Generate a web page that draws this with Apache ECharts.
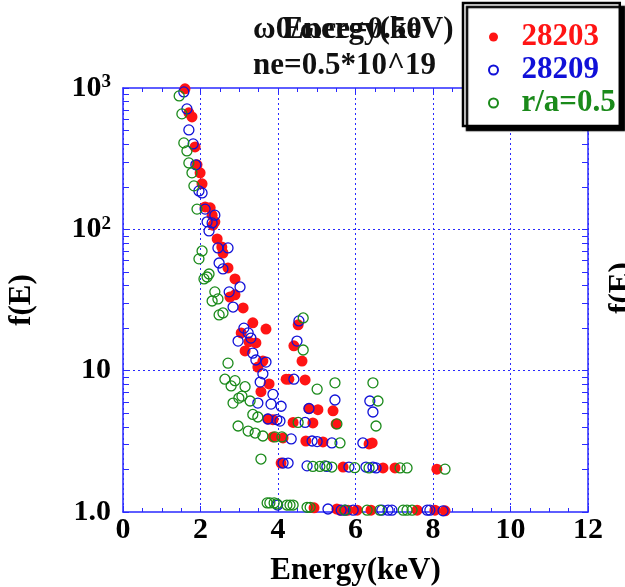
<!DOCTYPE html>
<html>
<head>
<meta charset="utf-8">
<script src="https://cdn.jsdelivr.net/npm/echarts@6/dist/echarts.min.js"></script>
<style>
  html, body { margin: 0; padding: 0; background: #fff; }
  #chart { width: 625px; height: 587px; }
</style>
</head>
<body>
<div id="chart"></div>
<script>
// Energy axis ticks (keV) and f(E) decade labels
const xTicks = [0, 2, 4, 6, 8, 10, 12];
const yDecadeLabels = { 1: '1.0', 10: '10', 100: '{b|10}{s|2}', 1000: '{b|10}{s|3}' };
// Tick marks along the logarithmic f(E) axis: decades plus 2..9 within each decade
const yTickValues = [1, 2, 3, 4, 5, 6, 7, 8, 9, 10, 20, 30, 40, 50, 60, 70, 80, 90,
  100, 200, 300, 400, 500, 600, 700, 800, 900, 1000];
// Inner decades that get a dotted grid line
const yGridValues = [10, 100];

// Series names
const seriesNames = ['28203', '28209', 'r/a=0.5'];

// Shot 28203: energy (keV) and f(E)
const e28203 = [1.60, 1.70, 1.78, 1.86, 1.91, 1.99, 2.04, 2.12, 2.25, 2.30, 2.37, 2.32, 2.43, 2.55, 2.58,
  2.71, 2.89, 2.76, 2.89, 3.10, 3.35, 3.69, 3.05, 3.25, 3.43, 3.15, 3.61, 3.48, 3.77, 3.56,
  4.52, 4.41, 4.62, 4.21, 4.28, 4.70, 4.80, 5.03, 5.42, 3.74, 3.87, 4.39, 4.90, 5.50,
  3.87, 4.13, 4.72, 5.16, 6.35, 6.43, 4.08, 5.68, 6.71, 7.02, 8.10,
  4.93, 5.52, 5.60, 5.81, 6.04, 6.40, 7.59, 8.05, 8.31];
const f28203 = [986, 667, 624, 383, 286, 251, 210, 144, 142, 126, 113, 107, 85.5, 75, 68,
  53.3, 44.6, 33.2, 34.4, 27.8, 21.8, 19.7, 18.5, 16.0, 15.7, 13.8, 11.7, 10.6, 8.05, 7.1,
  21.1, 15.0, 11.7, 8.7, 8.7, 8.6, 5.4, 5.3, 5.2, 4.55, 4.5, 4.3, 4.27, 4.2,
  3.4, 3.34, 3.18, 3.13, 3.03, 3.08, 2.22, 2.08, 2.05, 2.05, 2.01,
  1.07, 1.05, 1.03, 1.03, 1.03, 1.03, 1.03, 1.03, 1.02];

// Shot 28209
const e28209 = [1.57, 1.65, 1.70, 1.81, 1.88, 1.96, 2.04, 2.12, 2.37, 2.30, 2.17, 2.22, 2.45, 2.71, 2.48,
  2.58, 2.74, 3.02, 2.84, 3.12, 3.23, 3.30, 2.97, 3.35, 3.43, 3.69, 3.61, 3.54,
  4.54, 4.49, 4.41, 3.87, 3.48, 3.82, 4.08, 4.80, 5.47, 6.37, 6.45, 3.74, 3.97, 4.05, 4.70,
  4.34, 4.88, 5.01, 5.39, 6.19, 4.13, 4.26, 4.75, 5.26, 5.83, 6.27, 6.45, 6.53,
  3.99, 5.29, 5.63, 5.73, 5.94, 6.68, 6.84, 6.94, 7.85, 7.92, 8.26];
const f28209 = [938, 711, 505, 402, 286, 187, 181, 139, 126, 111, 113, 97.5, 73.9, 73.9, 57.8,
  52.5, 36.1, 39.1, 28.2, 20.0, 18.5, 17.0, 16.2, 13.3, 11.9, 11.5, 9.5, 8.3,
  22.5, 16.2, 8.7, 6.8, 5.9, 5.8, 5.6, 5.4, 6.2, 6.1, 5.1, 4.55, 4.5, 4.4, 4.3,
  3.29, 3.18, 3.15, 3.08, 3.08, 2.22, 2.22, 2.12, 2.1, 2.08, 2.08, 2.08, 2.05,
  1.12, 1.05, 1.03, 1.03, 1.03, 1.03, 1.03, 1.03, 1.03, 1.03, 1.02];

// Profile at r/a = 0.5
const eHalf = [1.45, 1.52, 1.57, 1.65, 1.70, 1.78, 1.83, 1.91, 2.04, 1.96, 2.22, 2.17, 2.09, 2.37, 2.45,
  2.30, 2.48, 2.58, 2.71, 2.63, 2.89, 2.79, 3.15, 3.07, 2.99, 2.84, 3.28, 3.35, 3.48, 2.97,
  3.23, 3.41, 3.61, 3.56, 4.65, 4.65, 5.47, 5.01, 6.45, 6.58, 4.52, 5.52, 6.53, 3.92, 4.10,
  5.60, 4.90, 5.08, 5.21, 5.39, 5.98, 6.35, 7.15, 7.33, 8.31,
  3.72, 3.79, 3.90, 3.97, 4.23, 4.31, 4.39, 4.75, 4.83, 5.73, 6.30, 6.63, 7.23, 7.33, 7.46];
const fHalf = [879, 656, 409, 359, 295, 251, 203, 139, 70.3, 61.8, 48.3, 46.0, 44.6, 36.1, 32.2,
  31.1, 24.8, 25.6, 11.3, 8.7, 8.5, 7.8, 7.7, 6.6, 6.4, 5.9, 6.1, 4.9, 4.7, 4.06,
  3.74, 3.62, 3.45, 2.37, 23.6, 14.0, 8.2, 7.4, 8.2, 6.1, 4.3, 4.2, 4.06, 3.4, 3.4,
  3.08, 2.1, 2.1, 2.12, 2.08, 2.06, 2.05, 2.05, 2.05, 2.01,
  1.16, 1.16, 1.16, 1.14, 1.12, 1.12, 1.12, 1.08, 1.08, 1.03, 1.03, 1.03, 1.03, 1.03, 1.03];

const RED = '#ff1414';
const BLUE = '#1010d8';
const GREEN = '#1a8a1a';
const AXIS = '#2a2aff';
const FONT = '"Liberation Serif", "Times New Roman", serif';

const pairs = (xs, ys) => xs.map((x, i) => [x, ys[i]]);

const bold = (size, color) => ({ fontFamily: FONT, fontWeight: 'bold', fontSize: size, color: color || '#000' });

const chart = echarts.init(document.getElementById('chart'), null, { renderer: 'canvas' });

const xBase = {
  type: 'value', min: xTicks[0], max: xTicks[xTicks.length - 1], interval: 2,
  axisLine: { onZero: false, lineStyle: { color: AXIS, width: 1.5 } },
  axisTick: { inside: true, length: 6, lineStyle: { color: AXIS, width: 1 } },
  minorTick: { show: true, splitNumber: 4, length: 4, lineStyle: { color: AXIS, width: 1 } }
};
const yBase = {
  type: 'log', logBase: 10, min: 1, max: 1000,
  axisLine: { onZero: false, lineStyle: { color: AXIS, width: 1.5 } },
  axisTick: { inside: true, length: 6, customValues: yTickValues, lineStyle: { color: AXIS, width: 1 } },
  minorTick: { show: false },
  splitLine: { show: false }
};

chart.setOption({
  animation: false,
  backgroundColor: '#fff',
  title: [
    { text: 'ω0/ωce=0.50', left: 253, top: 14, padding: 0, textStyle: bold(31, '#111') },
    { text: 'Energy(keV)', left: 283, top: 14, padding: 0, textStyle: bold(31, '#111') },
    { text: 'ne=0.5*10^19', left: 253, top: 50, padding: 0, textStyle: bold(31, '#111') }
  ],
  grid: { left: 123, right: 37, top: 88, bottom: 75, containLabel: false, outerBoundsMode: 'none' },
  legend: {
    orient: 'vertical', left: 463, top: 3,
    padding: [18, 4, 7, 25], itemGap: 1, itemWidth: 46, itemHeight: 9,
    backgroundColor: '#fff', borderColor: '#000', borderWidth: 2.5,
    shadowColor: '#000', shadowBlur: 1, shadowOffsetX: 4, shadowOffsetY: 4,
    textStyle: Object.assign(bold(31), { lineHeight: 32 }),
    data: [
      { name: seriesNames[0], textStyle: { color: RED } },
      { name: seriesNames[1], textStyle: { color: BLUE } },
      { name: seriesNames[2], textStyle: { color: GREEN } }
    ]
  },
  xAxis: [
    Object.assign({}, xBase, {
      position: 'bottom',
      name: 'Energy(keV)', nameLocation: 'middle', nameGap: 43,
      nameTextStyle: bold(31),
      axisLabel: Object.assign(bold(30), { margin: 3 }),
      splitLine: { show: true, lineStyle: { color: AXIS, type: [2, 3], width: 1 } }
    }),
    Object.assign({}, xBase, {
      position: 'top', axisLabel: { show: false }, splitLine: { show: false }
    })
  ],
  yAxis: [
    Object.assign({}, yBase, {
      position: 'left',
      name: 'f(E)', nameLocation: 'middle', nameGap: 86, nameRotate: 90,
      nameTextStyle: bold(31),
      axisLabel: Object.assign(bold(30), {
        margin: 12,
        formatter: v => yDecadeLabels[Math.round(v)] || '',
        rich: {
          b: bold(30),
          s: Object.assign(bold(19), { lineHeight: 19, verticalAlign: 'top', padding: [0, 0, 6, 0] })
        }
      })
    }),
    Object.assign({}, yBase, {
      position: 'right', axisLabel: { show: false }
    })
  ],
  graphic: [
    {
      type: 'text', x: 622, y: 288, rotation: Math.PI / 2,
      style: { text: 'f(E)', textAlign: 'center', textVerticalAlign: 'middle', fill: '#000',
        font: 'bold 31px ' + FONT }
    }
  ],
  series: [
    {
      name: seriesNames[0], type: 'scatter', data: pairs(e28203, f28203),
      symbol: 'circle', symbolSize: 11,
      itemStyle: { color: RED, opacity: 1 },
      markLine: {
        silent: true, symbol: 'none', label: { show: false }, z: 0,
        lineStyle: { color: AXIS, type: [2, 3], width: 1 },
        emphasis: { disabled: true },
        data: yGridValues.map(v => ({ yAxis: v }))
      }
    },
    {
      name: seriesNames[1], type: 'scatter', data: pairs(e28209, f28209),
      symbol: 'circle', symbolSize: 10,
      itemStyle: { color: 'rgba(0,0,0,0)', borderColor: BLUE, borderWidth: 1.3, opacity: 1 }
    },
    {
      name: seriesNames[2], type: 'scatter', data: pairs(eHalf, fHalf),
      symbol: 'circle', symbolSize: 10,
      itemStyle: { color: 'rgba(0,0,0,0)', borderColor: GREEN, borderWidth: 1.3, opacity: 1 }
    }
  ]
});
</script>
</body>
</html>
